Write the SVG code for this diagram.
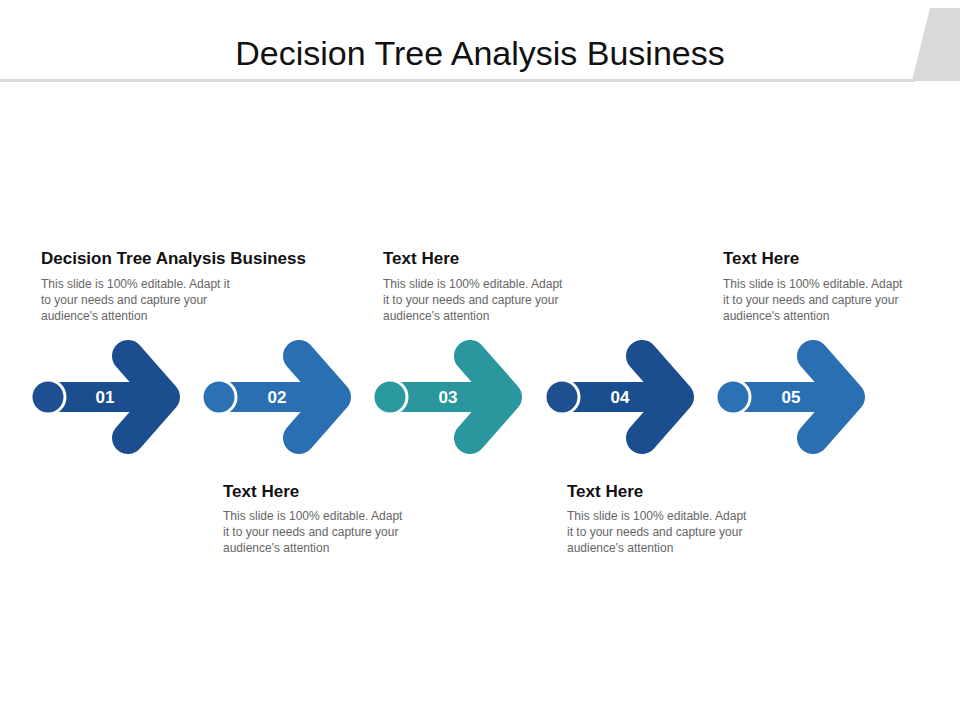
<svg xmlns="http://www.w3.org/2000/svg" width="960" height="720" viewBox="0 0 960 720">
<style>
.t{font-family:"Liberation Sans",Arial,sans-serif}
.h{font-size:17px;font-weight:bold;fill:#111}
.b{font-size:12px;fill:#666}
.n{font-size:17px;font-weight:bold;fill:#fff;text-anchor:middle}
.ch{fill:none;stroke-width:32;stroke-linecap:round;stroke-linejoin:round}
.c{stroke:#fff;stroke-width:3}
</style>
<rect width="960" height="720" fill="#fff"/>
<polygon points="930,8 960,8 960,81 912,81" fill="#d9d9d9"/>
<rect x="0" y="79" width="915" height="3" fill="#d9d9d9"/>
<text class="t" x="480" y="65" font-size="34" text-anchor="middle" fill="#111">Decision Tree Analysis Business</text>
<defs>
<g id="arr">
<rect x="0" y="382" width="125" height="30"/>
<polyline class="ch" points="80,356 116,397 80,438" stroke="inherit"/>
</g>
</defs>
<g id="step1"><rect x="48" y="382" width="117" height="30" fill="#1b4e8f"/><polyline class="ch" points="128,356 164,397 128,438" stroke="#1b4e8f"/><circle class="c" cx="48" cy="397" r="17" fill="#1d4f91"/><text class="t n" x="105" y="403">01</text></g>
<g id="step2"><rect x="219" y="382" width="117" height="30" fill="#2a6fb2"/><polyline class="ch" points="299,356 335,397 299,438" stroke="#2a6fb2"/><circle class="c" cx="219" cy="397" r="17" fill="#2a72b5"/><text class="t n" x="277" y="403">02</text></g>
<g id="step3"><rect x="390" y="382" width="117" height="30" fill="#29979d"/><polyline class="ch" points="470,356 506,397 470,438" stroke="#29979d"/><circle class="c" cx="390" cy="397" r="17" fill="#2a9aa0"/><text class="t n" x="448" y="403">03</text></g>
<g id="step4"><rect x="562" y="382" width="117" height="30" fill="#1b4e8f"/><polyline class="ch" points="642,356 678,397 642,438" stroke="#1b4e8f"/><circle class="c" cx="562" cy="397" r="17" fill="#1d4f91"/><text class="t n" x="620" y="403">04</text></g>
<g id="step5"><rect x="733" y="382" width="117" height="30" fill="#2a6fb2"/><polyline class="ch" points="813,356 849,397 813,438" stroke="#2a6fb2"/><circle class="c" cx="733" cy="397" r="17" fill="#2a72b5"/><text class="t n" x="791" y="403">05</text></g>
<g id="label1" class="t"><text class="h" x="41" y="264">Decision Tree Analysis Business</text><text class="b" x="41" y="288">This slide is 100% editable. Adapt it</text><text class="b" x="41" y="304">to your needs and capture your</text><text class="b" x="41" y="320">audience's attention</text></g>
<g id="label2" class="t"><text class="h" x="223" y="497">Text Here</text><text class="b" x="223" y="520">This slide is 100% editable. Adapt</text><text class="b" x="223" y="536">it to your needs and capture your</text><text class="b" x="223" y="552">audience's attention</text></g>
<g id="label3" class="t"><text class="h" x="383" y="264">Text Here</text><text class="b" x="383" y="288">This slide is 100% editable. Adapt</text><text class="b" x="383" y="304">it to your needs and capture your</text><text class="b" x="383" y="320">audience's attention</text></g>
<g id="label4" class="t"><text class="h" x="567" y="497">Text Here</text><text class="b" x="567" y="520">This slide is 100% editable. Adapt</text><text class="b" x="567" y="536">it to your needs and capture your</text><text class="b" x="567" y="552">audience's attention</text></g>
<g id="label5" class="t"><text class="h" x="723" y="264">Text Here</text><text class="b" x="723" y="288">This slide is 100% editable. Adapt</text><text class="b" x="723" y="304">it to your needs and capture your</text><text class="b" x="723" y="320">audience's attention</text></g>
</svg>
